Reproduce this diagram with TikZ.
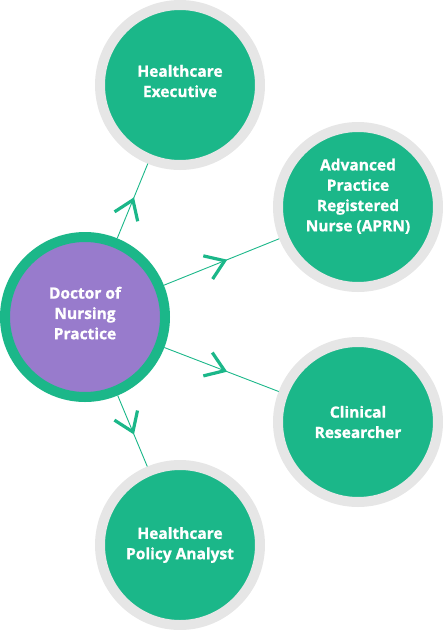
\documentclass[tikz,border=0pt]{standalone}
\definecolor{NurseGreen}{RGB}{27,183,137}
\definecolor{NursePurple}{RGB}{152,123,204}
\definecolor{RingGray}{RGB}{230,230,230}
\usepackage{fontspec}
\setmainfont{Open Sans}[BoldFeatures={FakeBold=1}]
\usepackage{tikz}
\usetikzlibrary{arrows.meta,decorations.markings}

\tikzset{
  career/.style={circle,fill=NurseGreen,draw=RingGray,line width=10pt,minimum size=160pt,
    inner sep=0pt,text=white,align=center,font=\bfseries\fontsize{15.5}{20.3}\selectfont},
  degree/.style={career,fill=NursePurple,draw=NurseGreen},
  pathway/.style={draw=NurseGreen,line width=0.9pt,postaction={decorate},
    decoration={markings,mark=at position 0.55 with
      {\arrow{Straight Barb[length=18pt,width=25pt,line width=3.2pt]}}}}
}

\begin{document}
\begin{tikzpicture}[x=1pt,y=-1pt]
  \useasboundingbox (0,0) rectangle (443,630);
  % centre and the four careers
  \node[degree,text depth=8pt] (dnp) at (85,317) {Doctor of\\Nursing\\Practice};
  \node[career,text depth=8pt] (exec) at (180,85) {Healthcare\\Executive};
  \node[career,text depth=24pt] (aprn) at (358,207) {Advanced\\Practice\\Registered\\Nurse (APRN)};
  \node[career] (research) at (358,422) {Clinical\\Researcher};
  \node[career] (policy) at (180,545) {Healthcare\\Policy Analyst};
  % connectors
  \foreach \target in {exec,aprn,research,policy} {
    \draw[pathway] (dnp) -- (\target);
  }
\end{tikzpicture}
\end{document}
